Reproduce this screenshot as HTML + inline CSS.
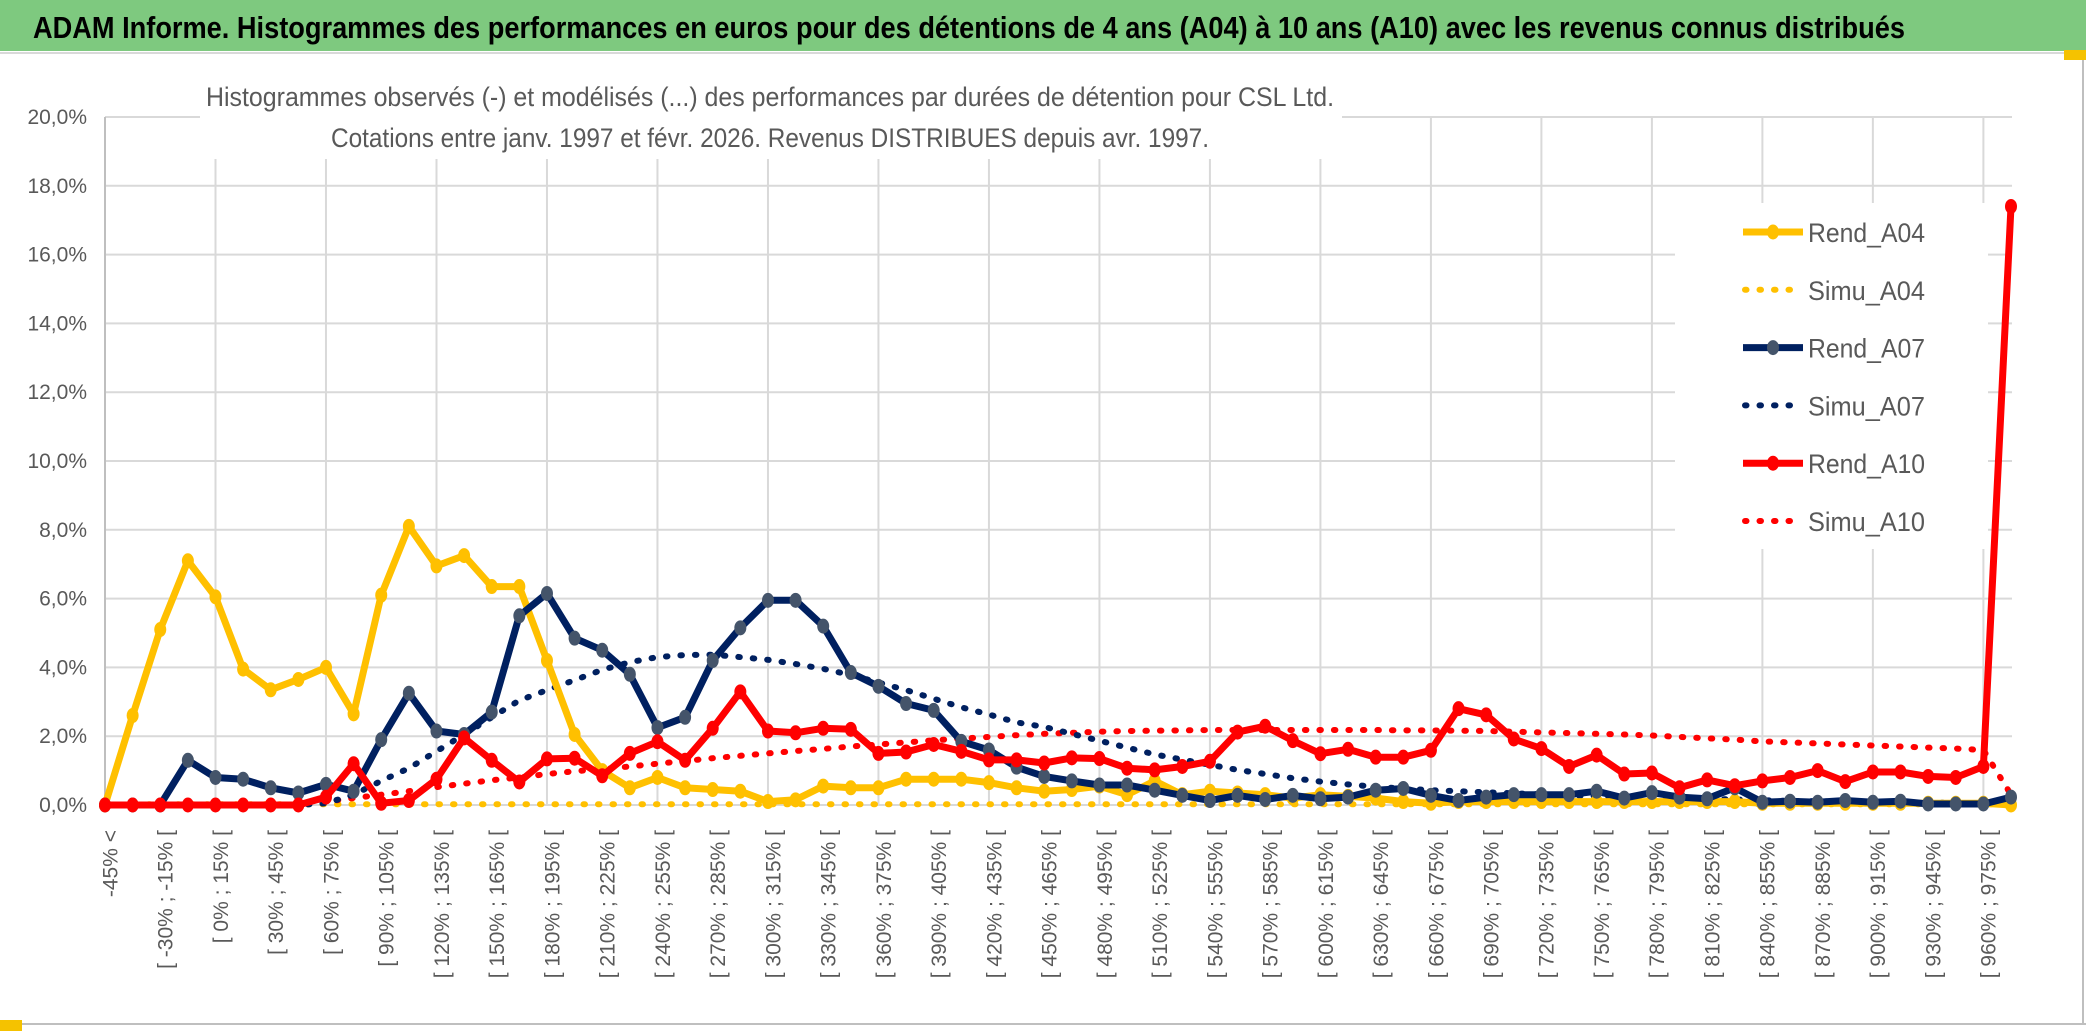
<!DOCTYPE html>
<html><head><meta charset="utf-8"><style>
html,body{margin:0;padding:0;background:#fff;width:2086px;height:1031px;overflow:hidden}
svg{display:block}
text{font-family:"Liberation Sans Narrow","Liberation Sans",sans-serif}
</style></head><body>
<svg id="chart" width="2086" height="1031" viewBox="0 0 2086 1031" xmlns="http://www.w3.org/2000/svg">
<rect x="0" y="0" width="2086" height="1031" fill="#fff"/>
<rect x="0" y="0" width="2086" height="51" fill="#7ec97f"/>
<line x1="0" y1="53" x2="2086" y2="53" stroke="#d9d9d9" stroke-width="2"/>
<text x="33" y="38" font-size="31" font-weight="bold" fill="#000" textLength="1872" lengthAdjust="spacingAndGlyphs">ADAM Informe. Histogrammes des performances en euros pour des détentions de 4 ans (A04) à 10 ans (A10) avec les revenus connus distribués</text>
<line x1="2083" y1="55" x2="2083" y2="1025" stroke="#bfbfbf" stroke-width="2"/>
<line x1="0" y1="1024" x2="2086" y2="1024" stroke="#bfbfbf" stroke-width="2"/>
<rect x="0" y="1020" width="22" height="11" fill="#f5c200"/>
<rect x="2064" y="50" width="22" height="10" fill="#f5c200"/>
<g id="grid"></g>
<g id="ylabels"></g>
<g id="xlabels"></g>
<rect x="200" y="75" width="1142" height="84" fill="#fff"/>
<text x="206" y="106" font-size="27" fill="#595959" textLength="1128" lengthAdjust="spacingAndGlyphs">Histogrammes observés (-) et modélisés (...) des performances par durées de détention pour CSL Ltd.</text>
<text x="331" y="147" font-size="27" fill="#595959" textLength="878" lengthAdjust="spacingAndGlyphs">Cotations entre janv. 1997 et févr. 2026. Revenus DISTRIBUES depuis avr. 1997.</text>
<g id="series"></g>
<rect x="1675" y="203" width="313" height="346" fill="#fff"/>
<g id="legend"></g>
</svg>
<script>
const categories = (function(){const c=["-45% <"];for(let a=-45;a<=960;a+=15){c.push("[ "+a+"% ; "+(a+15)+"% [");}c.push("975% >=");return c;})();
const yTicks = [0,2,4,6,8,10,12,14,16,18,20];
const yTickLabels = ["0,0%","2,0%","4,0%","6,0%","8,0%","10,0%","12,0%","14,0%","16,0%","18,0%","20,0%"];
const rendA04 = [0,2.6,5.1,7.1,6.05,3.95,3.35,3.65,4.0,2.65, 6.1,8.1,6.95,7.25,6.35,6.35,4.2,2.05,1.0,0.5, 0.8,0.5,0.45,0.4,0.1,0.15,0.55,0.5,0.5,0.75, 0.75,0.75,0.65,0.5,0.4,0.45,0.55,0.3,0.7,0.3, 0.4,0.35,0.3,0.2,0.3,0.25,0.2,0.1,0.05,0.1, 0.1,0.1,0.1,0.1,0.1,0.1,0.1,0.1,0.1,0.1, 0.05,0.05,0.05,0.05,0.05,0.05,0.05,0.05,0.05,0.0];
const simuA04 = [0,0.02,0.02,0.02,0.02,0.02,0.02,0.02,0.02,0.02, 0.02,0.02,0.02,0.02,0.02,0.02,0.02,0.02,0.02,0.02, 0.02,0.02,0.02,0.02,0.02,0.02,0.02,0.02,0.02,0.02, 0.02,0.02,0.02,0.02,0.02,0.02,0.02,0.02,0.02,0.02, 0.02,0.02,0.02,0.02,0.02,0.02,0.02,0.02,0.02,0.02, 0.02,0.02,0.02,0.02,0.02,0.02,0.02,0.02,0.02,0.02, 0.02,0.02,0.02,0.02,0.02,0.02,0.02,0.02,0.02,0.02];
const rendA07 = [0,0,0,1.3,0.8,0.75,0.5,0.35,0.6,0.4, 1.9,3.25,2.15,2.05,2.7,5.5,6.15,4.85,4.5,3.8, 2.25,2.55,4.2,5.15,5.95,5.95,5.2,3.85,3.45,2.95, 2.75,1.85,1.6,1.1,0.83,0.7,0.58,0.58,0.43,0.28, 0.13,0.28,0.16,0.28,0.18,0.23,0.43,0.48,0.28,0.13, 0.23,0.3,0.3,0.3,0.4,0.2,0.36,0.23,0.18,0.5, 0.08,0.11,0.08,0.13,0.08,0.11,0.03,0.03,0.03,0.23];
const simuA07 = [0,0,0,0,0,0,0,0,0.05,0.3, 0.7,1.07,1.56,2.05,2.55,3.04,3.34,3.63,3.93,4.15, 4.3,4.36,4.37,4.3,4.22,4.1,3.96,3.78,3.56,3.34, 3.09,2.84,2.63,2.4,2.27,2.07,1.87,1.67,1.47,1.32, 1.17,1.02,0.9,0.78,0.68,0.6,0.53,0.48,0.43,0.4, 0.37,0.34,0.31,0.28,0.26,0.24,0.22,0.2,0.18,0.16, 0.14,0.12,0.11,0.1,0.09,0.08,0.07,0.06,0.05,0.05];
const rendA10 = [0,0,0,0,0,0,0,0,0.23,1.2, 0.05,0.13,0.75,1.95,1.3,0.67,1.34,1.36,0.85,1.5, 1.84,1.3,2.23,3.29,2.15,2.1,2.23,2.2,1.5,1.54, 1.76,1.56,1.31,1.31,1.22,1.37,1.35,1.07,1.02,1.12, 1.27,2.12,2.29,1.87,1.49,1.62,1.39,1.39,1.59,2.8, 2.62,1.92,1.64,1.12,1.45,0.9,0.93,0.5,0.73,0.56, 0.7,0.8,1.0,0.68,0.96,0.96,0.83,0.8,1.12,17.4];
const simuA10 = [0,0,0,0,0,0,0,0.02,0.1,0.2, 0.3,0.4,0.52,0.62,0.72,0.8,0.9,0.98,1.05,1.12, 1.2,1.28,1.36,1.43,1.5,1.57,1.63,1.7,1.76,1.82, 1.88,1.93,1.98,2.03,2.07,2.1,2.13,2.15,2.16,2.17, 2.18,2.18,2.18,2.18,2.18,2.18,2.18,2.17,2.17,2.16, 2.15,2.13,2.11,2.09,2.07,2.05,2.02,1.98,1.94,1.9, 1.85,1.82,1.79,1.76,1.73,1.7,1.67,1.64,1.6,0.3];
const seriesNames = ["Rend_A04","Simu_A04","Rend_A07","Simu_A07","Rend_A10","Simu_A10"];

const NS="http://www.w3.org/2000/svg";
const X0=105, X1=2012, Y0=805, Y20=117;
function xPos(i){return X0+i*(2011-X0)/(categories.length-1);}
function yPos(v){return Y0-(v/20)*(Y0-Y20);}
function mk(tag,attrs,parent){const e=document.createElementNS(NS,tag);for(const k in attrs)e.setAttribute(k,attrs[k]);parent.appendChild(e);return e;}

const grid=document.getElementById('grid');
yTicks.forEach((t,k)=>{
  const l=mk('line',{x1:X0,x2:X1,y1:yPos(t),y2:yPos(t),stroke:'#d9d9d9','stroke-width':2},grid);
  
  
  const tx=mk('text',{x:87,y:yPos(t)+7,'font-size':21,fill:'#595959','text-anchor':'end'},document.getElementById('ylabels'));
  tx.textContent=yTickLabels[k];
  
  
});
for(let i=0;i<categories.length;i+=4){
  const l=mk('line',{x1:xPos(i),x2:xPos(i),y1:Y20,y2:Y0,stroke:i===0?'#bfbfbf':'#d9d9d9','stroke-width':2},grid);
  
  
}
const xl=document.getElementById('xlabels');
for(let i=0;i<categories.length;i+=2){
  if(i>=categories.length-1)break;
  const x=xPos(i)+5,y=830;
  const t=mk('text',{x:x,y:y,'font-size':21,fill:'#595959','text-anchor':'end',transform:'rotate(-90 '+x+' '+y+')',dy:'0.35em'},xl);
  t.style.fontFamily='"Liberation Sans",sans-serif';
  t.textContent=categories[i];
  
  
}

const sg=document.getElementById('series');
function pts(arr){return arr.map((v,i)=>xPos(i).toFixed(1)+','+yPos(v).toFixed(1)).join(' ');}
function dotted(arr,color,name){
  const p=mk('polyline',{points:pts(arr),fill:'none',stroke:color,'stroke-width':6,'stroke-linecap':'round','stroke-dasharray':'1.5 13'},sg);
  
  
}
function solid(arr,color,mcolor,name){
  const p=mk('polyline',{points:pts(arr),fill:'none',stroke:color,'stroke-width':7,'stroke-linejoin':'round'},sg);
  
  
  arr.forEach((v,i)=>{
    const c=mk('ellipse',{cx:xPos(i),cy:yPos(v),rx:6,ry:7.5,fill:mcolor},sg);
    
    
  });
}
dotted(simuA04,'#ffc000','simu-a04-line');
dotted(simuA10,'#ff0000','simu-a10-line');
dotted(simuA07,'#002060','simu-a07-line');
solid(rendA04,'#ffc000','#ffc000','rend-a04-line');
solid(rendA07,'#002060','#44546a','rend-a07-line');
solid(rendA10,'#ff0000','#ff0000','rend-a10-line');

const lg=document.getElementById('legend');
const lcol=['#ffc000','#ffc000','#002060','#002060','#ff0000','#ff0000'];
const mcol=['#ffc000',null,'#44546a',null,'#ff0000',null];
seriesNames.forEach((n,k)=>{
  const y=232+k*57.8;
  if(k%2===0){
    const l=mk('line',{x1:1743,x2:1803,y1:y,y2:y,stroke:lcol[k],'stroke-width':7},lg);
    
    
    const m=mk('ellipse',{cx:1773,cy:y,rx:6,ry:7.5,fill:mcol[k]},lg);
    
    
  }else{
    const l=mk('line',{x1:1745,x2:1803,y1:y,y2:y,stroke:lcol[k],'stroke-width':6,'stroke-linecap':'round','stroke-dasharray':'1.5 13'},lg);
    
    
  }
  const t=mk('text',{x:1808,y:y+10,'font-size':27,fill:'#595959',textLength:117,lengthAdjust:'spacingAndGlyphs'},lg);
  t.textContent=n;
  
  
});
</script>
</body></html>
